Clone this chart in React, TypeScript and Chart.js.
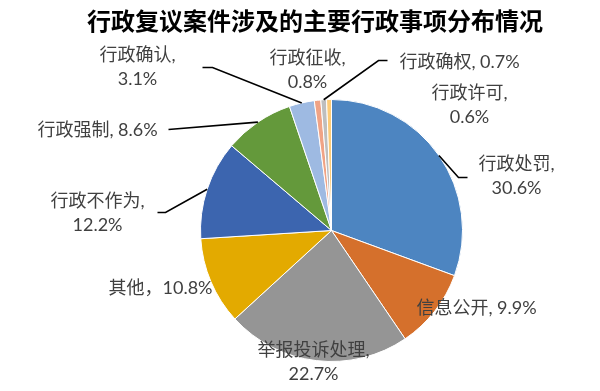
import React, { useEffect, useRef } from "react";
import { Chart, registerables } from "chart.js";

Chart.register(...registerables);

const titleText = "行政复议案件涉及的主要行政事项分布情况";
const categories = [
  "行政处罚",
  "信息公开",
  "举报投诉处理",
  "其他",
  "行政不作为",
  "行政强制",
  "行政确认",
  "行政征收",
  "行政确权",
  "行政许可",
];
const shares = [30.6, 9.9, 22.7, 10.8, 12.2, 8.6, 3.1, 0.8, 0.7, 0.6];
const sliceColors = [
  "#4D85C1",
  "#D5702C",
  "#959595",
  "#E3AA00",
  "#3C65AF",
  "#64993B",
  "#9EBAE2",
  "#F0A385",
  "#BEBEBE",
  "#FDCB78",
];
// separator between name and value: "\n" = two lines
const labelSeparators = [",\n", ", ", ",\n", "，", ",\n", ", ", ",\n", ",\n", ", ", ",\n"];

// label layout relative to pie centre (px): text centre, optional elbow and line end
type LabelLayout = { dx: number; dy: number; elbow?: [number, number]; end?: [number, number] };
const labelLayout: LabelLayout[] = [
  { dx: 185, dy: -54, elbow: [127, -53], end: [136, -53] },
  { dx: 145, dy: 78 },
  { dx: -18, dy: 132 },
  { dx: -171, dy: 58 },
  { dx: -234, dy: -17, elbow: [-166, -18], end: [-174, -18] },
  { dx: -234, dy: -100, end: [-163, -101] },
  { dx: -194, dy: -163, elbow: [-119, -163], end: [-129, -163] },
  { dx: -24, dy: -160 },
  { dx: 128, dy: -168, elbow: [47, -170], end: [56, -170] },
  { dx: 138, dy: -125 },
];

const LABEL_FONT = "18px Lato, 'Noto Sans CJK SC', sans-serif";
const TITLE_FONT = "bold 24px 'Noto Sans CJK SC', sans-serif";

const labelPlugin = {
  id: "pieLabels",
  afterDatasetsDraw(chart: any) {
    const ctx = chart.ctx as CanvasRenderingContext2D;
    const meta = chart.getDatasetMeta(0);
    ctx.save();
    // title
    ctx.fillStyle = "#000000";
    ctx.font = TITLE_FONT;
    ctx.textAlign = "center";
    ctx.textBaseline = "middle";
    ctx.fillText(titleText, 307, 13);

    meta.data.forEach((arc: any, i: number) => {
      const p = arc.getProps(["x", "y", "startAngle", "endAngle", "outerRadius"], true);
      const mid = (p.startAngle + p.endAngle) / 2;
      const ex = p.x + Math.cos(mid) * p.outerRadius;
      const ey = p.y + Math.sin(mid) * p.outerRadius;
      const lay = labelLayout[i];
      if (lay.end) {
        ctx.beginPath();
        ctx.strokeStyle = "#000000";
        ctx.lineWidth = 1.6;
        ctx.moveTo(ex, ey);
        if (lay.elbow) ctx.lineTo(p.x + lay.elbow[0], p.y + lay.elbow[1]);
        ctx.lineTo(p.x + lay.end[0], p.y + lay.end[1]);
        ctx.stroke();
      }
      const text = categories[i] + labelSeparators[i] + shares[i].toFixed(1) + "%";
      const lines = text.split("\n");
      ctx.font = LABEL_FONT;
      ctx.fillStyle = "#404040";
      ctx.textAlign = "center";
      ctx.textBaseline = "middle";
      const lh = 24;
      const cx = p.x + lay.dx;
      const cy = p.y + lay.dy;
      lines.forEach((ln, k) => {
        ctx.fillText(ln, cx, cy + (k - (lines.length - 1) / 2) * lh);
      });
    });
    ctx.restore();
  },
};

export default function App() {
  const ref = useRef<HTMLCanvasElement | null>(null);
  useEffect(() => {
    if (!ref.current) return;
    const chart = new Chart(ref.current, {
      type: "pie",
      data: {
        labels: categories,
        datasets: [
          {
            data: shares,
            backgroundColor: sliceColors,
            borderColor: "#ffffff",
            borderWidth: 1,
          },
        ],
      },
      options: {
        animation: false,
        responsive: false,
        layout: { padding: { left: 192, top: 91, right: 129, bottom: 21 } },
        plugins: {
          legend: { display: false },
          title: { display: false },
          tooltip: { enabled: false },
        },
      },
      plugins: [labelPlugin],
    });
    return () => chart.destroy();
  }, []);
  return (
    <div style={{ width: 584, height: 375 }}>
      <canvas ref={ref} width={584} height={375} style={{ display: "block" }} />
    </div>
  );
}
